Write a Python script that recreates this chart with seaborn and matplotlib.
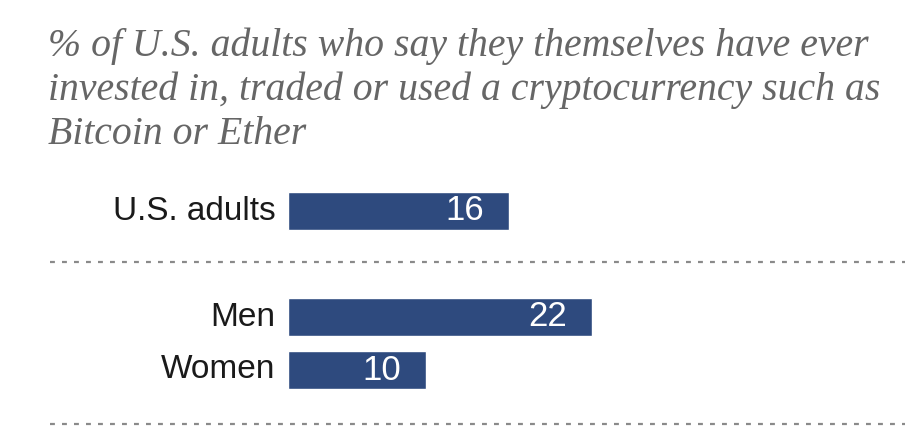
import matplotlib
matplotlib.use("Agg")
import matplotlib.pyplot as plt
import seaborn as sns
import pandas as pd

# ---- data ----
total_labels = ["U.S. adults"]
total_values = [16]
group_labels = ["Men", "Women"]
group_values = [22, 10]
title_lines = [
    "% of U.S. adults who say they themselves have ever",
    "invested in, traded or used a cryptocurrency such as",
    "Bitcoin or Ether",
]

BAR = "#2e4a7e"
W, H = 910, 428
sns.set_style("white")
plt.rcParams["font.family"] = ["Liberation Sans", "DejaVu Sans"]

fig = plt.figure(figsize=(W / 100, H / 100), dpi=100)

# title
baselines = [56, 100, 144]
for line, b in zip(title_lines, baselines):
    fig.text(48 / W, 1 - b / H, line, fontsize=28.6, style="italic",
             family=["Liberation Serif", "DejaVu Serif"], color="#666666",
             ha="left", va="baseline")

ppu = 13.8  # px per unit
left_px, right_px, zero_px = 50, 905, 288
xlim = (-(zero_px - left_px) / ppu, (right_px - zero_px) / ppu)
unit = 53.0
bw = 38 / unit


def panel(top_px, bottom_px, first_center_px, labels, values):
    ax = fig.add_axes([left_px / W, 1 - bottom_px / H,
                       (right_px - left_px) / W, (bottom_px - top_px) / H])
    df = pd.DataFrame({"label": labels, "value": values})
    sns.barplot(data=df, x="value", y="label", orient="h", color=BAR,
                width=bw, ax=ax, saturation=1)
    y_top = -(first_center_px - top_px) / unit
    y_bot = y_top + (bottom_px - top_px) / unit
    ax.set_ylim(y_bot, y_top)
    ax.set_xlim(*xlim)
    ax.axis("off")
    for i, (lab, v) in enumerate(zip(labels, values)):
        ax.annotate(lab, xy=(0, i), xytext=(-9, 0), textcoords="offset points",
                    ha="right", va="center", fontsize=24, color="#1a1a1a")
        ax.annotate(str(v), xy=(v, i), xytext=(-18, 0), textcoords="offset points",
                    ha="right", va="center", fontsize=25, color="white")
    ax.axhline(y_bot, color="#8a8a8a", lw=1.6, ls=(0, (2.2, 3.2)), clip_on=False)
    return ax


panel(175, 262, 211, total_labels, total_values)
panel(290, 424, 317, group_labels, group_values)

fig.savefig("out.png", dpi=100)
